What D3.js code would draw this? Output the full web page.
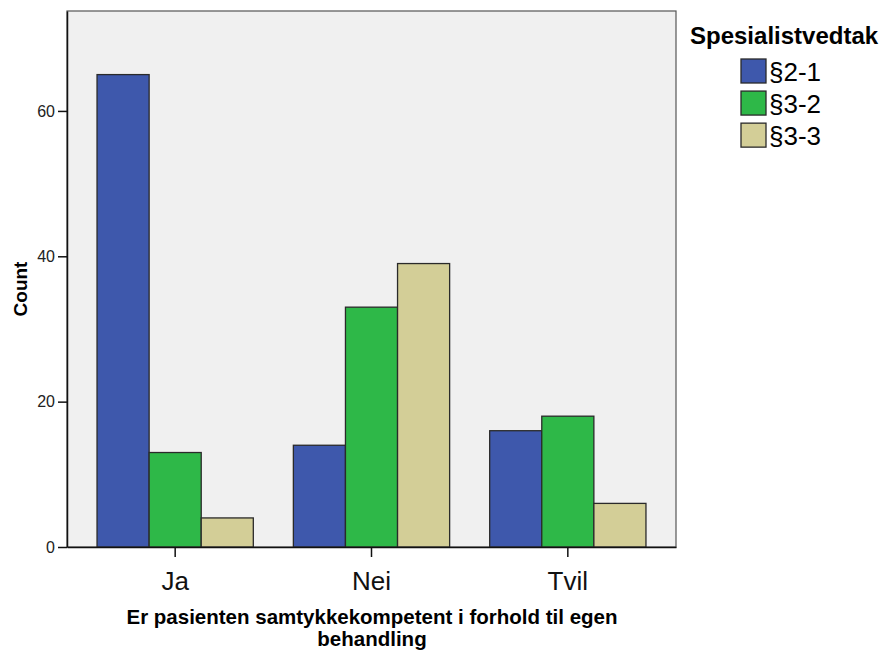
<!DOCTYPE html>
<html><head><meta charset="utf-8">
<script src="https://cdn.jsdelivr.net/npm/d3@7"></script>
<style>body{margin:0;background:#fff;font-family:Arial,"Liberation Sans",sans-serif}</style>
</head><body><svg id="c" width="885" height="653"></svg>
<script>
const categories = ["Ja", "Nei", "Tvil"];
const seriesNames = ["§2-1", "§3-2", "§3-3"];
const s21 = [65, 14, 16];
const s32 = [13, 33, 18];
const s33 = [4, 39, 6];
const yTicks = [0, 20, 40, 60];
const colors = ["#3E58AC", "#2EB848", "#D3CE97"];
const seriesValues = [s21, s32, s33];
const FF = "Arial,'Liberation Sans',sans-serif";

const svg = d3.select("#c");
const L = 67, R = 676, T = 11, B = 547;
const x = d3.scaleBand().domain(categories).range([L, R]).paddingInner(0.204).paddingOuter(0.153);
const xs = d3.scaleBand().domain(seriesNames).range([0, x.bandwidth()]);
const y = d3.scaleLinear().domain([0, 73.75]).range([B, T]);

svg.append("rect").attr("x", L).attr("y", T).attr("width", R - L).attr("height", B - T)
  .attr("fill", "#F0F0F0").attr("stroke", "#555").attr("stroke-width", 1.2);

categories.forEach((c, ci) => {
  seriesNames.forEach((s, si) => {
    const v = seriesValues[si][ci];
    svg.append("rect").attr("x", x(c) + xs(s)).attr("y", y(v))
      .attr("width", xs.bandwidth()).attr("height", y(0) - y(v))
      .attr("fill", colors[si]).attr("stroke", "#2a2a2a").attr("stroke-width", 1.3);
  });
});

const ya = svg.append("g").attr("transform", `translate(${L},0)`)
  .call(d3.axisLeft(y).tickValues(yTicks).tickSize(9).tickSizeOuter(0).tickPadding(3).tickFormat(d3.format("d")));
ya.attr("font-size", 16);
ya.select(".domain").attr("stroke", "#111").attr("stroke-width", 1.5);
ya.selectAll(".tick line").attr("stroke", "#111").attr("stroke-width", 1.5);
ya.selectAll(".tick text").attr("font-size", 16).attr("fill", "#222").attr("font-family", FF);

const xa = svg.append("g").attr("transform", `translate(0,${B})`)
  .call(d3.axisBottom(x).tickSize(10).tickSizeOuter(0).tickPadding(15));
xa.select(".domain").attr("stroke", "#111").attr("stroke-width", 1.5);
xa.selectAll(".tick line").attr("stroke", "#111").attr("stroke-width", 1.5);
xa.selectAll("text").attr("font-size", 26).attr("fill", "#111").attr("font-family", FF);

svg.append("text").attr("transform", `translate(27,${(T + B) / 2 + 10}) rotate(-90)`)
  .attr("text-anchor", "middle").attr("font-weight", "bold").attr("font-size", 19)
  .attr("font-family", FF).text("Count");

svg.append("text").attr("x", 372).attr("y", 624).attr("text-anchor", "middle").attr("font-family", FF)
  .attr("font-weight", "bold").attr("font-size", 20.5).text("Er pasienten samtykkekompetent i forhold til egen");
svg.append("text").attr("x", 372).attr("y", 646).attr("text-anchor", "middle").attr("font-family", FF)
  .attr("font-weight", "bold").attr("font-size", 20.5).text("behandling");

svg.append("text").attr("x", 690).attr("y", 44).attr("font-weight", "bold").attr("font-size", 24)
  .attr("font-family", FF).text("Spesialistvedtak");
const ly = d3.scaleBand().domain(seriesNames).range([59, 152]).paddingInner(0.1);
seriesNames.forEach((s, i) => {
  svg.append("rect").attr("x", 741).attr("y", ly(s)).attr("width", 25).attr("height", 24)
    .attr("fill", colors[i]).attr("stroke", "#2a2a2a").attr("stroke-width", 1.3);
  svg.append("text").attr("x", 769).attr("y", ly(s) + 22).attr("font-size", 26)
    .attr("font-family", FF).text(s);
});
</script></body></html>
